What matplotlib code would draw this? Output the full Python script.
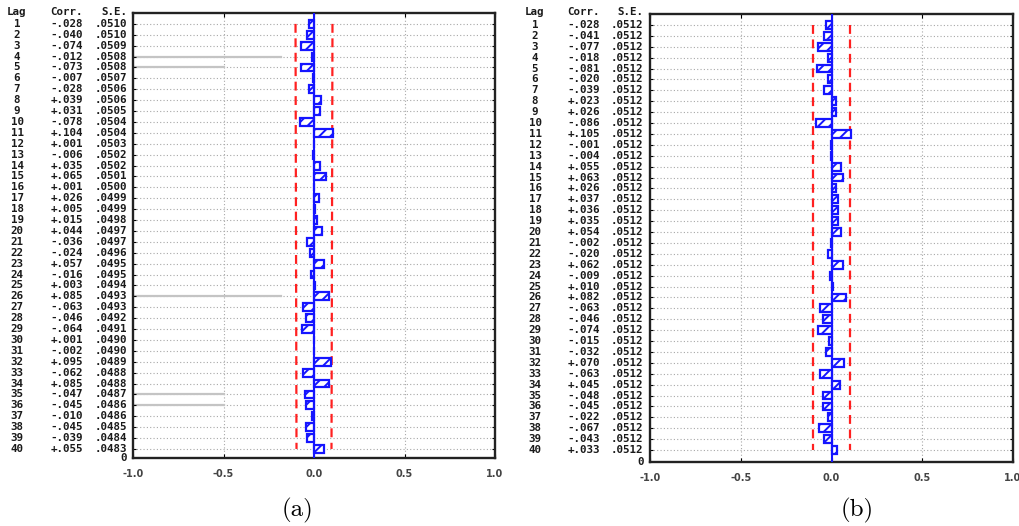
import matplotlib.pyplot as plt
import matplotlib.transforms as mtransforms
import numpy as np

lags = np.arange(1, 41)

# panel (a)
corr_a = [-.028, -.040, -.074, -.012, -.073, -.007, -.028, .039, .031, -.078,
          .104, .001, -.006, .035, .065, .001, .026, .005, .015, .044,
          -.036, -.024, .057, -.016, .003, .085, -.063, -.046, -.064, .001,
          -.002, .095, -.062, .085, -.047, -.045, -.010, -.045, -.039, .055]
se_a = [.0510, .0510, .0509, .0508, .0508, .0507, .0506, .0506, .0505, .0504,
        .0504, .0503, .0502, .0502, .0501, .0500, .0499, .0499, .0498, .0497,
        .0497, .0496, .0495, .0495, .0494, .0493, .0493, .0492, .0491, .0490,
        .0490, .0489, .0488, .0488, .0487, .0486, .0486, .0485, .0484, .0483]

# panel (b)
corr_b = [-.028, -.041, -.077, -.018, -.081, -.020, -.039, .023, .026, -.086,
          .105, -.001, -.004, .055, .063, .026, .037, .036, .035, .054,
          -.002, -.020, .062, -.009, .010, .082, -.063, -.046, -.074, -.015,
          -.032, .070, -.063, .045, -.048, -.045, -.022, -.067, -.043, .033]
se_b = [.0512] * 40

# screen-capture artifacts in panel (a): (lag, right end of grey line)
grey_a = [(4, -0.18), (5, -0.5), (26, -0.18), (35, -0.5), (36, -0.5)]

plt.rcParams["hatch.linewidth"] = 1.4

fig = plt.figure(figsize=(10.19, 5.26), dpi=100)
W, H = 1019, 526

mono = dict(family="DejaVu Sans Mono", fontsize=7.8, fontweight="bold", color="#1a1a1a")


def fmt_corr(v):
    s = "%.3f" % abs(v)
    return ("+" if v >= 0 else "-") + s[1:]


def panel(box, corr, se, ybottom, cols, caption, cap_x, grey=()):
    l, r, t, b = box
    ax = fig.add_axes([l / W, 1 - b / H, (r - l) / W, (b - t) / H])
    corr = np.array(corr)
    se = np.array(se)

    for y in lags:
        ax.axhline(y, color="#a8a8a8", lw=0.8, ls=(0, (1, 2)), zorder=0)
    for x in (-0.5, 0.0, 0.5):
        ax.axvline(x, color="#a8a8a8", lw=0.8, ls=(0, (1, 2)), zorder=0)
    for lag, xend in grey:
        ax.plot([-1, xend], [lag, lag], color="#c4c4c4", lw=1.6, zorder=1)

    ax.barh(lags, corr, height=0.72, color="white", edgecolor="#1515ff",
            hatch="///", lw=1.6, zorder=3)
    ax.axvline(0, color="#1515ff", lw=1.5, zorder=4)
    ax.plot(2 * se, lags, color="#ff2020", lw=1.6, ls=(0, (4, 2.5)), zorder=2)
    ax.plot(-2 * se, lags, color="#ff2020", lw=1.6, ls=(0, (4, 2.5)), zorder=2)

    ax.set_xlim(-1, 1)
    ax.set_ylim(ybottom, 0)
    ax.set_xticks([-1, -0.5, 0, 0.5, 1])
    ax.set_xticklabels(["-1.0", "-0.5", "0.0", "0.5", "1.0"])
    ax.set_yticks(lags)
    ax.set_yticklabels([])
    ax.tick_params(axis="x", direction="in", length=3, labelsize=7,
                   labelcolor="#444444", pad=8, top=True)
    for lab in ax.get_xticklabels():
        lab.set_fontweight("bold")
    ax.tick_params(axis="y", direction="in", length=2.5, left=True, right=True)
    for s in ax.spines.values():
        s.set_linewidth(1.7)
        s.set_color("#222222")

    tr = mtransforms.blended_transform_factory(fig.transFigure, ax.transData)
    lag_x, corr_x, se_x = cols
    fig.text(lag_x / W, 1 - 12 / H, "Lag", ha="center", va="center", **mono)
    fig.text(corr_x / W, 1 - 12 / H, "Corr.", ha="right", va="center", **mono)
    fig.text(se_x / W, 1 - 12 / H, "S.E.", ha="right", va="center", **mono)
    for i, lag in enumerate(lags):
        ax.text(lag_x / W, lag, str(lag), ha="center", va="center", transform=tr, **mono)
        ax.text(corr_x / W, lag, fmt_corr(corr[i]), ha="right", va="center", transform=tr, **mono)
        ax.text(se_x / W, lag, ("%.4f" % se[i])[1:], ha="right", va="center", transform=tr, **mono)
    ax.text((l - 6) / W, ybottom, "0", ha="right", va="center", transform=tr, **mono)

    fig.text(cap_x / W, 1 - 510 / H, caption, ha="center", va="center",
             family="cmr10", fontsize=18)
    return ax


panel((133, 495, 13, 458), corr_a, se_a, 40.83, (17, 83, 127), "(a)", 297, grey_a)
panel((650, 1013, 14, 461.6), corr_b, se_b, 41.06, (535, 600, 643), "(b)", 857)

fig.savefig("out.png", dpi=100)
